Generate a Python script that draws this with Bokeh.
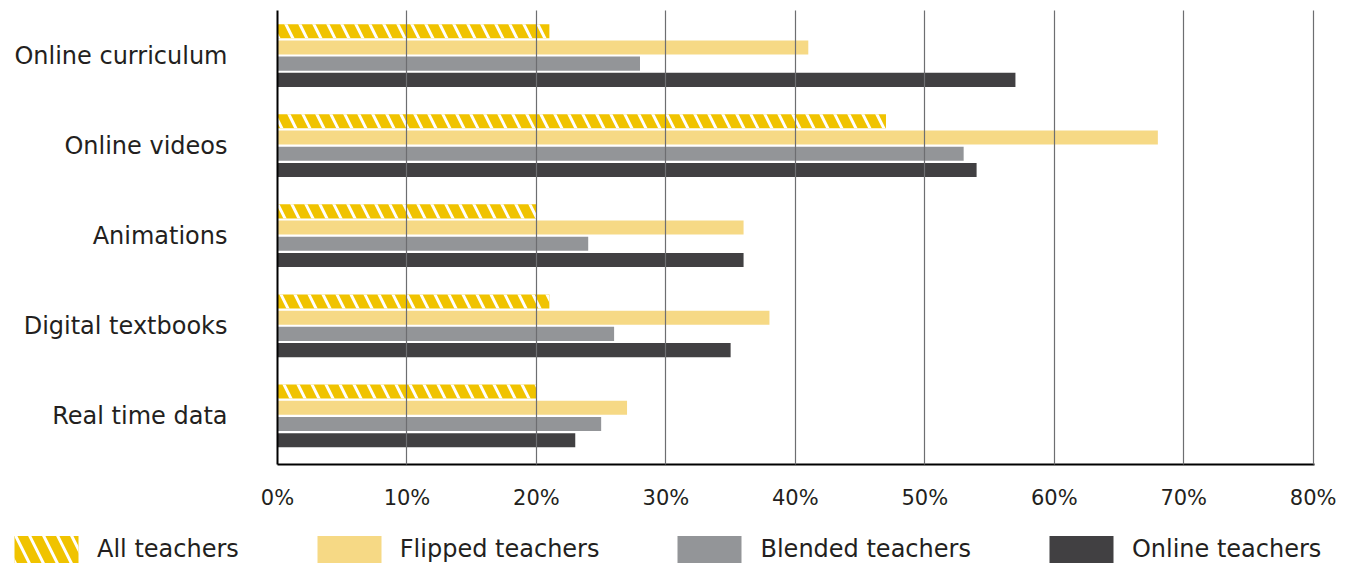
from bokeh.plotting import figure
from bokeh.layouts import column
from bokeh.models import (ColumnDataSource, Range1d, FixedTicker, PrintfTickFormatter,
                          Legend, LegendItem)
from bokeh.transform import dodge
from bokeh.embed import file_html
from bokeh.resources import INLINE

categories = ["Online curriculum", "Online videos", "Animations",
              "Digital textbooks", "Real time data"]
all_teachers = [21, 47, 20, 21, 20]
flipped_teachers = [41, 68, 36, 38, 27]
blended_teachers = [28, 53, 24, 26, 25]
online_teachers = [57, 54, 36, 35, 23]
series_names = ["All teachers", "Flipped teachers", "Blended teachers", "Online teachers"]
x_ticks = [0, 10, 20, 30, 40, 50, 60, 70, 80]

FONT = "DejaVu Sans"
TXT = "#231f20"
styles = [
    dict(fill_color="#f0c300", line_color=None, hatch_pattern="\\", hatch_color="white",
         hatch_weight=3, hatch_scale=28),
    dict(fill_color="#f6d985", line_color=None),
    dict(fill_color="#939598", line_color=None),
    dict(fill_color="#414042", line_color=None),
]
offsets = [0.27, 0.09, -0.09, -0.27]
fields = ["a", "f", "b", "o"]

ypos = list(range(len(categories) - 1, -1, -1))
src = ColumnDataSource(dict(y=ypos, cat=categories, a=all_teachers, f=flipped_teachers,
                            b=blended_teachers, o=online_teachers))

p = figure(width=1340, height=520, x_range=Range1d(0, 80.1), y_range=Range1d(-0.54, 4.5),
           output_backend="svg", toolbar_location=None,
           min_border_left=277, min_border_right=26, min_border_top=10, min_border_bottom=56)
p.outline_line_color = None

H = 0.156
for off, fld, st in zip(offsets, fields, styles):
    p.hbar(y=dodge("y", off, range=p.y_range), left=0, right=fld, height=H, source=src, **st)

p.xgrid.ticker = FixedTicker(ticks=x_ticks)
p.xgrid.grid_line_color = "#6d6e71"
p.xgrid.grid_line_width = 1.2
p.xgrid.level = "overlay"
p.ygrid.visible = False

xa = p.xaxis[0]
xa.ticker = FixedTicker(ticks=x_ticks)
xa.formatter = PrintfTickFormatter(format="%d%%")
xa.major_label_text_font_size = "21px"
ya = p.yaxis[0]
ya.ticker = FixedTicker(ticks=ypos)
ya.major_label_overrides = {y: c for y, c in zip(ypos, categories)}
ya.major_label_text_font_size = "24px"
for ax in (xa, ya):
    ax.axis_line_color = "black"
    ax.axis_line_width = 2
    ax.major_tick_line_color = None
    ax.minor_tick_line_color = None
    ax.major_label_text_font = FONT
    ax.major_label_text_color = TXT
xa.major_label_standoff = 15
ya.major_label_standoff = 44

# legend strip below the chart (its bars fall outside its own view)
lg = figure(width=1340, height=48, x_range=Range1d(0, 80), y_range=Range1d(100, 101),
            output_backend="svg", toolbar_location=None,
            min_border_left=0, min_border_right=0, min_border_top=0, min_border_bottom=0)
if "frame_align" in lg.properties():
    lg.frame_align = False
lg.axis.visible = False
lg.grid.visible = False
lg.outline_line_color = None
lrs = [lg.hbar(y="y", right=fld, left=0, height=H, source=src, **st)
       for fld, st in zip(fields, styles)]
legend = Legend(items=[LegendItem(label=n, renderers=[r]) for n, r in zip(series_names, lrs)],
                location=(6, 2), orientation="horizontal",
                glyph_width=80, glyph_height=34, label_height=34, label_standoff=11,
                spacing=70, padding=0, margin=0, border_line_color=None,
                background_fill_alpha=0, label_text_font=FONT,
                label_text_font_size="24px", label_text_color=TXT)
lg.add_layout(legend, "center")

open("out.html", "w").write(file_html(column(p, lg, spacing=0), INLINE))
